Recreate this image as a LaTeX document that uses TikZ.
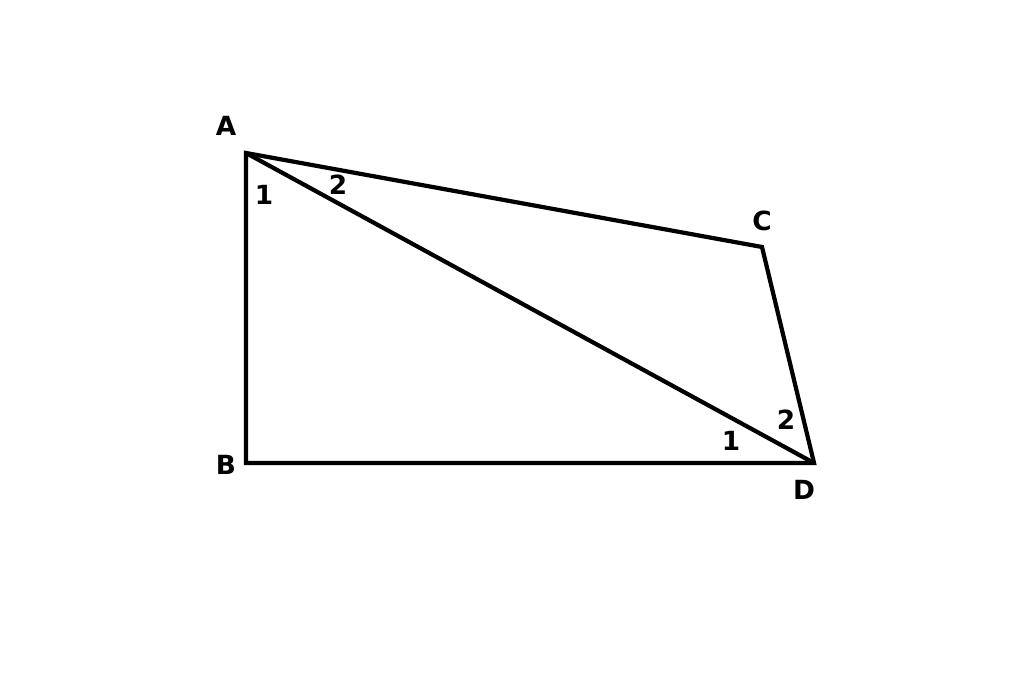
\documentclass[tikz,border=0pt]{standalone}
\usepackage{fontspec}
\setmainfont{DejaVu Sans}
\begin{document}
\begin{tikzpicture}[%
    x=0.02cm, y=-0.02cm,
    side/.style={line width=2.4pt, line join=miter},
    vlabel/.style={font=\fontsize{15}{15}\selectfont\bfseries, inner sep=0pt},
    alabel/.style={font=\fontsize{15}{15}\selectfont\bfseries, inner sep=0pt}
  ]
		\useasboundingbox (0,0) rectangle (1024,685);

		\coordinate (A) at (246,153);
		\coordinate (B) at (246,463);
		\coordinate (C) at (762,247);
		\coordinate (D) at (814,463);

		\draw[side] (A) -- (B) -- (D) -- (C) -- cycle;
		\draw[side] (A) -- (D);

		\node[vlabel] at (226,126) (lA) {A};
		\node[vlabel] at (226,465) (lB) {B};
		\node[vlabel] at (762,221) (lC) {C};
		\node[vlabel] at (804,490) (lD) {D};

		\node[alabel] at (264,195) (a1) {1};
		\node[alabel] at (338,185) (a2) {2};
		\node[alabel] at (731,441) (d1) {1};
		\node[alabel] at (786,420) (d2) {2};
	\end{tikzpicture}
\end{document}
